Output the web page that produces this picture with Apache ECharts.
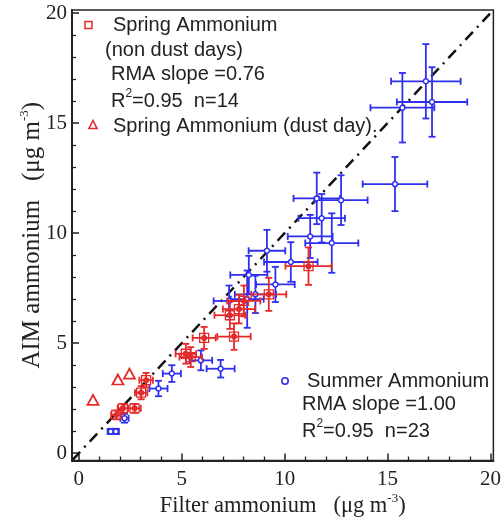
<!DOCTYPE html>
<html>
<head>
<meta charset="utf-8">
<script src="https://cdn.jsdelivr.net/npm/echarts@6/dist/echarts.min.js"></script>
<style>
  html, body { margin: 0; padding: 0; background: #fff; }
  #chart { width: 504px; height: 524px; }
</style>
</head>
<body>
<div id="chart"></div>
<script>
// summer ammonium (blue): filter, AIM, x error, y error
const summerX    = [16.86, 17.16, 15.72, 15.36, 11.56, 12.74, 11.8, 11.24, 12.29, 10.3, 9.14, 8.26, 8.58, 9.55, 8.18, 7.3, 5.93, 6.89, 4.52, 3.87, 2.22, 1.55, 1.8];
const summerY    = [16.9, 15.96, 15.7, 12.23, 11.58, 11.5, 10.68, 9.85, 9.55, 8.69, 9.2, 8.1, 7.22, 7.67, 7.0, 6.92, 4.22, 3.84, 3.62, 2.94, 1.59, 0.99, 0.99];
const summerXErr = [1.69, 1.71, 1.55, 1.57, 1.13, 1.29, 1.13, 1.09, 1.29, 1.3, 0.89, 0.9, 1.0, 0.94, 0.8, 0.75, 0.55, 0.68, 0.44, 0.44, 0.2, 0.15, 0.15];
const summerYErr = [1.69, 1.58, 1.58, 1.23, 1.17, 1.13, 1.1, 0.98, 1.35, 0.9, 0.95, 0.87, 0.85, 0.8, 1.3, 0.7, 0.45, 0.4, 0.38, 0.35, 0.2, 0.12, 0.12];

// spring ammonium, non dust days (red)
const springX    = [1.82, 2.14, 2.71, 3.03, 3.27, 5.2, 5.44, 6.09, 7.54, 7.34, 7.78, 8.02, 9.23, 11.16];
const springY    = [1.74, 2.04, 2.04, 2.75, 3.32, 4.52, 4.37, 5.24, 5.3, 6.27, 6.55, 6.92, 7.22, 8.5];
const springXErr = [0.25, 0.25, 0.3, 0.3, 0.33, 0.5, 0.55, 0.56, 0.81, 0.75, 0.78, 0.8, 0.85, 1.12];
const springYErr = [0.2, 0.2, 0.2, 0.3, 0.33, 0.45, 0.45, 0.5, 0.6, 0.62, 0.65, 0.7, 0.75, 0.85];

// spring ammonium, dust day
const dustX = [0.69, 1.9, 2.46];
const dustY = [2.42, 3.35, 3.62];

// 1:1 line
const oneToOne = [[-0.3, -0.3], [20.1, 20.1]];

const majorTicks = [0, 5, 10, 15, 20];
const minorTicks = [1, 2, 3, 4, 6, 7, 8, 9, 11, 12, 13, 14, 16, 17, 18, 19];

const RED = '#e42a2a';
const BLUE = '#2f2ff0';

function rows(xs, ys, exs, eys) {
    return xs.map((x, i) => [x, ys[i], exs[i], eys[i]]);
}

function errorBars(color) {
    return function (params, api) {
        const x = api.value(0), y = api.value(1), ex = api.value(2), ey = api.value(3);
        const l = api.coord([x - ex, y]), r = api.coord([x + ex, y]);
        const t = api.coord([x, y + ey]), b = api.coord([x, y - ey]);
        const cap = 3.5;
        const st = { stroke: color, lineWidth: 1.8 };
        const line = (x1, y1, x2, y2) => ({ type: 'line', shape: { x1, y1, x2, y2 }, style: st });
        return {
            type: 'group',
            children: [
                line(l[0], l[1], r[0], r[1]),
                line(t[0], t[1], b[0], b[1]),
                line(l[0], l[1] - cap, l[0], l[1] + cap),
                line(r[0], r[1] - cap, r[0], r[1] + cap),
                line(t[0] - cap, t[1], t[0] + cap, t[1]),
                line(b[0] - cap, b[1], b[0] + cap, b[1])
            ]
        };
    };
}

const serif = 'Liberation Serif';
const sans = 'Liberation Sans';

function mainAxis(name, gap, size) {
    return {
        type: 'value',
        min: -0.33, max: 20.14,
        name: name,
        nameLocation: 'middle',
        nameGap: gap,
        nameMoveOverlap: false,
        nameTextStyle: {
            fontFamily: serif, fontSize: size, color: '#222', lineHeight: size + 2,
            rich: { sup: { fontSize: 13, fontFamily: serif, color: '#222', verticalAlign: 'top', lineHeight: size + 4 } }
        },
        axisLine: { onZero: false, lineStyle: { color: '#222', width: 2 } },
        axisTick: { inside: true, length: 7, customValues: majorTicks, lineStyle: { color: '#222', width: 1.5 } },
        axisLabel: { customValues: majorTicks, fontFamily: serif, fontSize: 21, color: '#222', margin: 5 },
        splitLine: { show: false }
    };
}

function minorAxis(pos) {
    return {
        type: 'value',
        position: pos,
        min: -0.33, max: 20.14,
        axisLine: { show: false, onZero: false },
        axisTick: { inside: true, length: 4, customValues: minorTicks, lineStyle: { color: '#222', width: 1.3 } },
        axisLabel: { show: false },
        splitLine: { show: false }
    };
}

const xMain = mainAxis('Filter ammonium   (μg m{sup|-3})', 32, 22.5);
xMain.position = 'bottom';
xMain.axisLabel.margin = 8;
const yMain = mainAxis('AIM ammonium   (μg m{sup|-3})', 25, 25);
yMain.position = 'left';

const legendFont = { fontFamily: sans, fontSize: 20, fill: '#222', verticalAlign: 'middle' };
const supRich = { sup: { fontFamily: sans, fontSize: 12, fill: '#222', verticalAlign: 'top', lineHeight: 27 } };

const option = {
    animation: false,
    grid: {
        left: 72, right: 8, top: 10, bottom: 60,
        show: true, borderColor: '#222', borderWidth: 1.5, backgroundColor: '#fff'
    },
    xAxis: [xMain, minorAxis('bottom')],
    yAxis: [yMain, minorAxis('left')],
    series: [
        {
            type: 'line',
            data: oneToOne,
            symbol: 'none',
            lineStyle: { color: '#111', width: 2.5, type: [11, 6, 2, 6] },
            z: 1
        },
        {
            type: 'custom',
            renderItem: errorBars(BLUE),
            data: rows(summerX, summerY, summerXErr, summerYErr),
            encode: { x: 0, y: 1 },
            z: 2
        },
        {
            type: 'scatter',
            data: summerX.map((x, i) => [x, summerY[i]]),
            symbol: 'circle',
            symbolSize: 5,
            itemStyle: { color: '#fff', borderColor: BLUE, borderWidth: 1.5, opacity: 1 },
            z: 3
        },
        {
            type: 'custom',
            renderItem: errorBars(RED),
            data: rows(springX, springY, springXErr, springYErr),
            encode: { x: 0, y: 1 },
            z: 4
        },
        {
            type: 'scatter',
            data: springX.map((x, i) => [x, springY[i]]),
            symbol: 'rect',
            symbolSize: 9,
            itemStyle: { color: 'rgba(0,0,0,0)', borderColor: RED, borderWidth: 1.3, opacity: 1 },
            z: 5
        },
        {
            type: 'scatter',
            data: springX.map((x, i) => [x, springY[i]]),
            symbol: 'circle',
            symbolSize: 6,
            itemStyle: { color: RED, opacity: 1 },
            z: 6
        },
        {
            type: 'scatter',
            data: dustX.map((x, i) => [x, dustY[i]]),
            symbol: 'triangle',
            symbolSize: [11, 10],
            itemStyle: { color: '#fff', borderColor: RED, borderWidth: 1.8, opacity: 1 },
            z: 6
        }
    ],
    graphic: [
        // legend, upper left
        { type: 'rect', shape: { x: 85, y: 21.5, width: 7, height: 7 }, style: { fill: 'none', stroke: RED, lineWidth: 1.5 } },
        { type: 'text', style: Object.assign({ text: 'Spring Ammonium', x: 113, y: 25 }, legendFont) },
        { type: 'text', style: Object.assign({ text: '(non dust days)', x: 105, y: 50 }, legendFont) },
        { type: 'text', style: Object.assign({ text: 'RMA slope =0.76', x: 111, y: 74 }, legendFont) },
        { type: 'text', style: Object.assign({ text: 'R{sup|2}=0.95  n=14', x: 111, y: 101, rich: supRich }, legendFont) },
        { type: 'polygon', shape: { points: [[93, 120.5], [89, 128.5], [97, 128.5]] }, style: { fill: 'none', stroke: RED, lineWidth: 1.6 } },
        { type: 'text', style: Object.assign({ text: 'Spring Ammonium (dust day).', x: 113, y: 126 }, legendFont) },
        // legend, lower right
        { type: 'circle', shape: { cx: 285, cy: 381, r: 3.2 }, style: { fill: 'none', stroke: BLUE, lineWidth: 1.6 } },
        { type: 'text', style: Object.assign({ text: 'Summer Ammonium', x: 307, y: 381 }, legendFont) },
        { type: 'text', style: Object.assign({ text: 'RMA slope =1.00', x: 302, y: 404 }, legendFont) },
        { type: 'text', style: Object.assign({ text: 'R{sup|2}=0.95  n=23', x: 302, y: 431, rich: supRich }, legendFont) }
    ]
};

const chart = echarts.init(document.getElementById('chart'), null, { renderer: 'canvas' });
chart.setOption(option);
</script>
</body>
</html>
